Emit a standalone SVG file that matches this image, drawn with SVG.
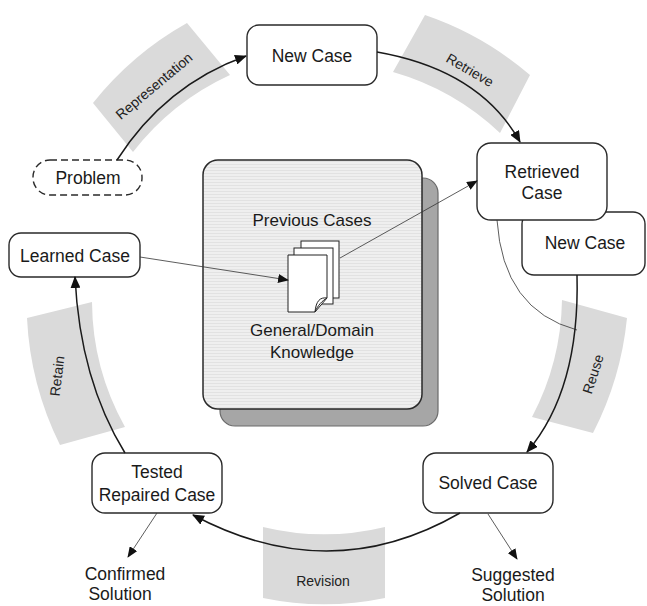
<svg xmlns="http://www.w3.org/2000/svg" width="647" height="606" viewBox="0 0 647 606">
<style>
.band{fill:#dadada;stroke:none}
.node{fill:#fff;stroke:#2a2a2a;stroke-width:1.4}
.t{font-family:"Liberation Sans",Arial,sans-serif;font-size:17.5px;fill:#1a1a1a;text-anchor:middle}
.bl{font-family:"Liberation Sans",Arial,sans-serif;font-size:14px;fill:#222;text-anchor:middle}
.thick{fill:none;stroke:#1a1a1a;stroke-width:1.5}
.thin{fill:none;stroke:#333;stroke-width:0.8}
.page{fill:#fff;stroke:#222;stroke-width:1}
</style>
<defs>
<marker id="ah" viewBox="0 0 12 10" refX="11" refY="5" markerWidth="12" markerHeight="10" markerUnits="userSpaceOnUse" orient="auto">
<path d="M0,0 L12,5 L0,10 Z" fill="#111"/>
</marker>
<marker id="ahs" viewBox="0 0 12 10" refX="11" refY="5" markerWidth="11" markerHeight="9" markerUnits="userSpaceOnUse" orient="auto">
<path d="M0,0 L12,5 L0,10 Z" fill="#111"/>
</marker>
<pattern id="stripes" width="4" height="3" patternUnits="userSpaceOnUse">
<rect width="4" height="3" fill="#efefef"/>
<rect y="2" width="4" height="1" fill="#e2e2e2"/>
</pattern>
</defs>
<rect width="647" height="606" fill="#fff"/>

<g id="bands">
<path class="band" d="M93,103 A320,320 0 0 1 187,23 L230,75 A260,260 0 0 0 133,152 Z"/>
<path class="band" d="M425,15 A320,320 0 0 1 530,75 L500,133 A260,260 0 0 0 393,72 Z"/>
<path class="band" d="M562,300 L627,318 A320,320 0 0 1 593,433 L532,417 A260,260 0 0 0 562,300 Z"/>
<path class="band" d="M385,598 A300,300 0 0 1 263,598 L263,527 A260,260 0 0 0 385,527 Z"/>
<path class="band" d="M60,445 A320,320 0 0 1 27,318 L92,302 A260,260 0 0 0 125,427 Z"/>
<text class="bl" transform="translate(154,86) rotate(-40)" y="5">Representation</text>
<text class="bl" transform="translate(470,70) rotate(30)" y="5">Retrieve</text>
<text class="bl" transform="translate(593,374) rotate(-72)" y="5">Reuse</text>
<text class="bl" x="323" y="586">Revision</text>
<text class="bl" transform="translate(57,376) rotate(-83)" y="5">Retain</text>
</g>

<g id="knowledge">
<rect x="220" y="178" width="218" height="248" rx="15" fill="#a6a6a6" stroke="#6a6a6a" stroke-width="1.2"/>
<rect x="203" y="160" width="219" height="249" rx="15" fill="url(#stripes)" stroke="#2a2a2a" stroke-width="1.5"/>
<text class="t" x="312" y="226" style="font-size:17px">Previous Cases</text>
<text class="t" x="312" y="336" style="font-size:17px">General/Domain</text>
<text class="t" x="312" y="358" style="font-size:17px">Knowledge</text>
<rect class="page" x="301" y="241" width="38" height="57"/>
<rect class="page" x="294" y="248" width="39" height="56"/>
<path class="page" d="M288,255 H327 V298 L315,312 H288 Z"/>
<path class="page" d="M327,298 C320,297 316,301 315,312 C318,305 322,301 327,298 Z"/>
</g>

<g id="n-newcase"><rect class="node" x="247" y="25" width="130" height="60" rx="12"/><text class="t" x="312" y="62">New Case</text></g>
<g id="n-problem"><rect class="node" x="33" y="160" width="109" height="35" rx="17" stroke-dasharray="7,4"/><text class="t" x="88" y="184">Problem</text></g>
<g id="n-learned"><rect class="node" x="9" y="233" width="131" height="44" rx="12"/><text class="t" x="75" y="262">Learned Case</text></g>
<g id="n-newcase2"><rect class="node" x="522" y="212" width="123" height="63" rx="12"/><text class="t" x="585" y="249">New Case</text></g>
<g id="n-retrieved"><rect class="node" x="477" y="143" width="130" height="77" rx="14"/><text class="t" x="542" y="178">Retrieved</text><text class="t" x="542" y="199">Case</text></g>
<g id="n-solved"><rect class="node" x="423" y="453" width="130" height="60" rx="13"/><text class="t" x="488" y="489">Solved Case</text></g>
<g id="n-tested"><rect class="node" x="92" y="453" width="130" height="60" rx="13"/><text class="t" x="157" y="478">Tested</text><text class="t" x="157" y="501">Repaired Case</text></g>
<g id="n-confirmed"><text class="t" x="125" y="580">Confirmed</text><text class="t" x="120" y="600">Solution</text></g>
<g id="n-suggested"><text class="t" x="513" y="581">Suggested</text><text class="t" x="513" y="601">Solution</text></g>

<g id="connectors">
<path class="thick" d="M117,160 Q165,85 246,56" marker-end="url(#ah)"/>
<path class="thick" d="M377,52 Q480,70 520,142" marker-end="url(#ah)"/>
<path class="thin" d="M497,220 Q503,310 577,330"/>
<path class="thick" d="M577,275 Q580,390 527,452" marker-end="url(#ah)"/>
<path class="thick" d="M460,513 Q330,588 193,515" marker-end="url(#ah)"/>
<path class="thick" d="M125,453 Q80,380 75,277" marker-end="url(#ah)"/>
<path class="thin" d="M140,257 L288,280" marker-end="url(#ahs)"/>
<path class="thin" d="M340,258 L477,181" marker-end="url(#ahs)"/>
<path class="thin" d="M488,514 L517,559" marker-end="url(#ahs)"/>
<path class="thin" d="M157,513 L128,557" marker-end="url(#ahs)"/>
</g>
</svg>
